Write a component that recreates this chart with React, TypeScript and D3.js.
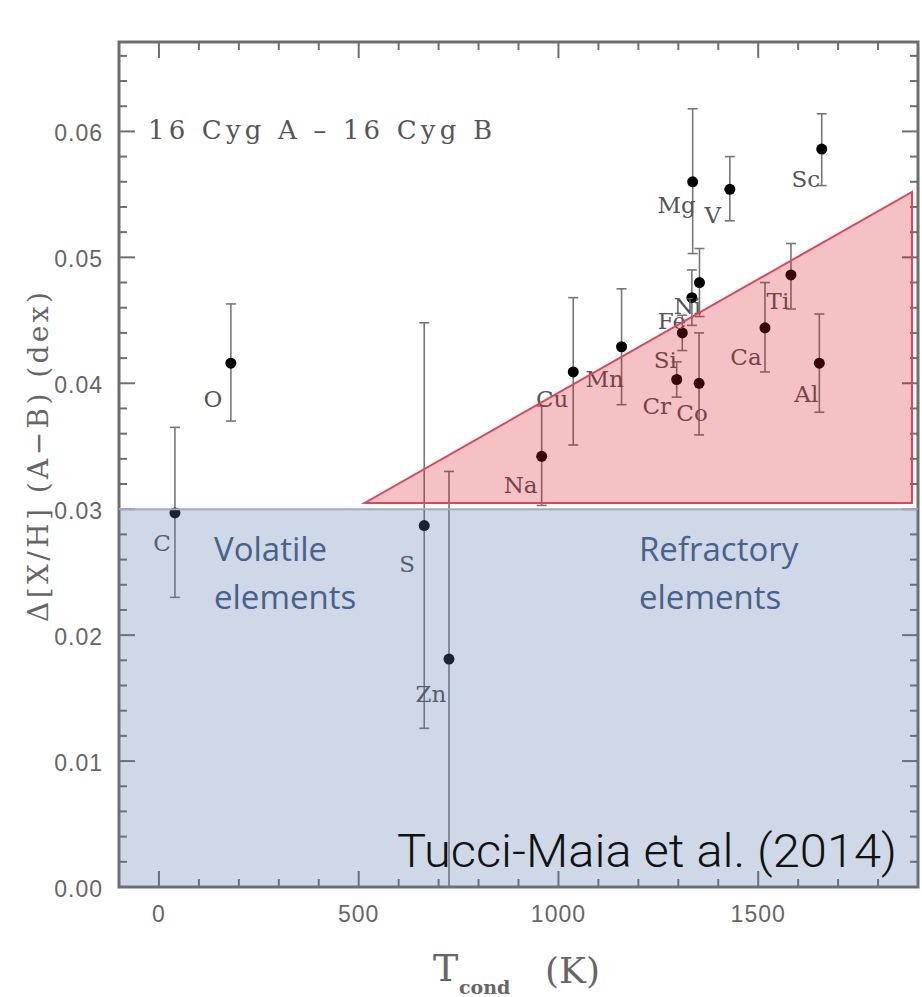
import React from "react";
import * as d3 from "d3";

// ---- data ----
const elements = ["C", "O", "S", "Zn", "Na", "Cu", "Mn", "Cr", "Si", "Fe", "Mg", "Co", "Ni", "V", "Ca", "Ti", "Al", "Sc"];
const tcond = [40, 180, 664, 726, 958, 1037, 1158, 1296, 1310, 1334, 1336, 1352, 1353, 1429, 1517, 1582, 1653, 1659];
const dAbund = [0.0297, 0.0416, 0.0287, 0.0181, 0.0342, 0.0409, 0.0429, 0.0403, 0.0440, 0.0468, 0.0560, 0.0400, 0.0480, 0.0554, 0.0444, 0.0486, 0.0416, 0.0586];
const errPlus = [0.0068, 0.0047, 0.0161, 0.0149, 0.0040, 0.0059, 0.0046, 0.0014, 0.0014, 0.0022, 0.0058, 0.0040, 0.0027, 0.0026, 0.0036, 0.0025, 0.0039, 0.0028];
const errMinus = [0.0067, 0.0046, 0.0161, 0.0181, 0.0039, 0.0058, 0.0046, 0.0014, 0.0014, 0.0022, 0.0057, 0.0041, 0.0027, 0.0025, 0.0035, 0.0027, 0.0039, 0.0029];
// label offsets (px) relative to the point
const labelDx = [-13, -18, -17, -18, -21, -21, -17, -20, -17, -20, -16, -7, -12, -17, -19, -13, -13, -16];
const labelDy = [29, 35, 37, 34, 28, 26, 31, 26, 26, 22, 22, 29, 22, 25, 28, 25, 30, 29];

const xTicksMajor = [0, 500, 1000, 1500];
const yTicksMajor = [0.0, 0.01, 0.02, 0.03, 0.04, 0.05, 0.06];
const xDomain = [-100, 1900];
const yDomain = [0, 0.0671];

// shaded regions
const volatileBox = { x0: -100, x1: 1900, y0: 0, y1: 0.03 };
const refractoryTri = [
  [515, 0.0305],
  [1885, 0.0305],
  [1885, 0.0552],
];

export default function App() {
  const W = 922, H = 997;
  const L = 119, R = 918, T = 42, B = 887;
  const x = d3.scaleLinear().domain(xDomain).range([L, R]);
  const y = d3.scaleLinear().domain(yDomain).range([B, T]);

  const xMinor = d3.range(-100, 1901, 100).filter((v) => !xTicksMajor.includes(v));
  const yMinor = d3.range(0, 0.0671, 0.002).filter((v) => Math.abs(Math.round(v * 100) - v * 100) > 1e-6);

  const axisColor = "#6e6e6e";
  const tickFont = "'Liberation Sans', Arial, sans-serif";
  const serif = "'DejaVu Serif', serif";

  const triPath = d3.line()(refractoryTri.map(([a, b]) => [x(a), y(b)]) as [number, number][]) + "Z";

  return (
    <svg width={W} height={H} style={{ position: "absolute", left: 0, top: 0, background: "#fff" }}>
      <rect x={0} y={0} width={W} height={H} fill="#fff" />
      {/* frame */}
      <rect x={L} y={T} width={R - L} height={B - T} fill="none" stroke={axisColor} strokeWidth={3} />
      {/* x ticks */}
      {xTicksMajor.map((v) => (
        <g key={"xM" + v}>
          <line x1={x(v)} x2={x(v)} y1={B} y2={B - 16} stroke={axisColor} strokeWidth={2} />
          <line x1={x(v)} x2={x(v)} y1={T} y2={T + 16} stroke={axisColor} strokeWidth={2} />
          <text x={x(v)} y={914} textAnchor="middle" dominantBaseline="central" fontFamily={tickFont} fontSize={23} letterSpacing={1} fill="#666">
            {v}
          </text>
        </g>
      ))}
      {xMinor.map((v) => (
        <g key={"xm" + v}>
          <line x1={x(v)} x2={x(v)} y1={B} y2={B - 8} stroke={axisColor} strokeWidth={2} />
          <line x1={x(v)} x2={x(v)} y1={T} y2={T + 8} stroke={axisColor} strokeWidth={2} />
        </g>
      ))}
      {/* y ticks */}
      {yTicksMajor.map((v) => (
        <g key={"yM" + v}>
          <line x1={L} x2={L + 16} y1={y(v)} y2={y(v)} stroke={axisColor} strokeWidth={2} />
          <line x1={R} x2={R - 16} y1={y(v)} y2={y(v)} stroke={axisColor} strokeWidth={2} />
          <text x={103} y={y(v) + 2} textAnchor="end" dominantBaseline="central" fontFamily={tickFont} fontSize={23} letterSpacing={1} fill="#666">
            {v.toFixed(2)}
          </text>
        </g>
      ))}
      {yMinor.map((v) => (
        <g key={"ym" + v}>
          <line x1={L} x2={L + 8} y1={y(v)} y2={y(v)} stroke={axisColor} strokeWidth={2} />
          <line x1={R} x2={R - 8} y1={y(v)} y2={y(v)} stroke={axisColor} strokeWidth={2} />
        </g>
      ))}

      {/* error bars and points */}
      {elements.map((el, i) => {
        const cx = x(tcond[i]);
        const yt = y(dAbund[i] + errPlus[i]);
        const yb = y(dAbund[i] - errMinus[i]);
        return (
          <g key={el}>
            <line x1={cx} x2={cx} y1={yt} y2={yb} stroke="#777" strokeWidth={1.6} />
            <line x1={cx - 5} x2={cx + 5} y1={yt} y2={yt} stroke="#777" strokeWidth={1.6} />
            <line x1={cx - 5} x2={cx + 5} y1={yb} y2={yb} stroke="#777" strokeWidth={1.6} />
            <circle cx={cx} cy={y(dAbund[i])} r={5.5} fill="#000" />
            <text x={cx + labelDx[i]} y={y(dAbund[i]) + labelDy[i] + 9} textAnchor="middle" fontFamily={serif} fontSize={23} fill="#555">
              {el}
            </text>
          </g>
        );
      })}

      {/* title */}
      <text x={148} y={139} fontFamily={serif} fontSize={26} fill="#555" textLength={344} lengthAdjust="spacing">
        16 Cyg A – 16 Cyg B
      </text>

      {/* overlays */}
      <path d={triPath} fill="rgb(211,20,31)" fillOpacity={0.26} stroke="none" />
      <path d={triPath} fill="none" stroke="rgb(220,70,90)" strokeWidth={2} />
      <rect
        x={x(volatileBox.x0)}
        y={y(volatileBox.y1)}
        width={x(volatileBox.x1) - x(volatileBox.x0)}
        height={y(volatileBox.y0) - y(volatileBox.y1)}
        fill="rgb(87,122,168)"
        fillOpacity={0.29}
      />
      <line x1={x(volatileBox.x0)} x2={x(volatileBox.x1)} y1={y(volatileBox.y1)} y2={y(volatileBox.y1)} stroke="rgb(160,172,190)" strokeWidth={2} />

      {/* region labels */}
      <g fontFamily="'Open Sans', 'Noto Sans', sans-serif" fontSize={33} fill="rgb(72,98,140)">
        <text x={214} y={561}>Volatile</text>
        <text x={214} y={609}>elements</text>
        <text x={639} y={561}>Refractory</text>
        <text x={639} y={609}>elements</text>
      </g>
      <text x={397} y={867} fontFamily="Roboto, 'Liberation Sans', sans-serif" fontWeight={300} fontSize={47} fill="#111" textLength={500} lengthAdjust="spacingAndGlyphs">
        Tucci-Maia et al. (2014)
      </text>

      {/* axis titles */}
      <text
        transform="translate(48,457) rotate(-90)"
        textAnchor="middle"
        fontFamily={serif}
        fontSize={28}
        fill="#666"
        textLength={330}
        lengthAdjust="spacing"
      >
        Δ[X/H] (A−B) (dex)
      </text>
      <text x={433} y={981} fontFamily={serif} fontSize={38} fill="#666">T</text>
      <text x={459} y={994} fontFamily={serif} fontSize={19} fontWeight="bold" fill="#666">cond</text>
      <text x={545} y={983} fontFamily={serif} fontSize={36} fill="#666">(K)</text>
    </svg>
  );
}
